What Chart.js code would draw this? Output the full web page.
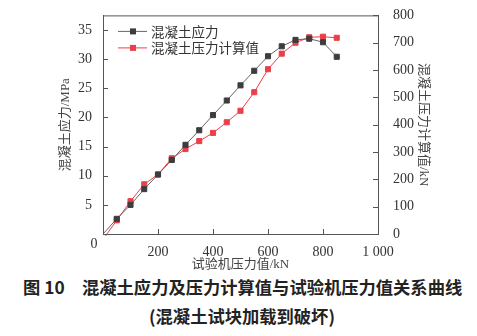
<!DOCTYPE html>
<html>
<head>
<meta charset="utf-8">
<script src="https://cdn.jsdelivr.net/npm/chart.js@4.4.1/dist/chart.umd.min.js"></script>
<style>
  body { margin: 0; background: #fff; }
  #wrap { position: relative; width: 477px; height: 336px; }
  #c { position: absolute; left: 0; top: 0; }
  .cap { position: absolute; font-family: "Noto Sans CJK SC", sans-serif; font-weight: bold; color: #222; font-size: 17.3px; white-space: nowrap; line-height: 24px; }
</style>
</head>
<body>
<div id="wrap">
  <canvas id="c" width="477" height="273"></canvas>
  <div class="cap" style="top:275px; left:23px;">图 10</div>
  <div class="cap" style="top:275px; left:82px;">混凝土应力及压力计算值与试验机压力值关系曲线</div>
  <div class="cap" style="top:304px; left:0; width:484px; text-align:center;">(混凝土试块加载到破坏)</div>
</div>
<script>
// Data ----- START
const loadKN = [0, 50, 100, 150, 200, 250, 300, 350, 400, 450, 500, 550, 600, 650, 700, 750, 800, 850]; //test machine load
const stressMPa = [0, 2.6, 5.0, 7.7, 10.2, 12.7, 15.3, 17.8, 20.4, 22.9, 25.5, 28.0, 30.5, 32.2, 33.3, 33.5, 32.9, 30.4]; //concrete stress
const calcKN = [-20, 50, 120, 182, 218, 277, 311, 340, 370, 409, 451, 519, 603, 660, 700, 720, 722, 718]; //calculated pressure
const xTicks = [0, 200, 400, 600, 800, 1000];
const stressLabel = '混凝土应力';
const calcLabel = '混凝土压力计算值';
// Data ----- END

const serif = '"Liberation Serif", "Noto Sans CJK SC", serif';
const tickFont = { family: serif, size: 14 };
const titleFont = { family: '"Liberation Serif", "Noto Sans CJK SC", serif', size: 13 };
const axisColor = '#555';
const grayLine = '#666';
const grayMark = '#3d3d3d';
const redLine = '#ef3f4a';
const redMark = '#e9404b';

//first point is only where the line starts, no marker
const radii = loadKN.map((v, i) => i === 0 ? 0 : 3.6);

//Draws the inward tick marks, top frame line, the origin 0 and the legend box
const extras = {
    id: 'extras',
    afterDraw(chart) {
        const ctx = chart.ctx;
        const a = chart.chartArea;
        ctx.save();
        ctx.strokeStyle = axisColor;
        ctx.lineWidth = 1;
        ctx.beginPath();
        ctx.moveTo(a.left, a.top + 0.5);
        ctx.lineTo(a.right, a.top + 0.5);
        // ticks pointing into the plot
        chart.scales.x.ticks.forEach(t => {
            const px = Math.round(chart.scales.x.getPixelForValue(t.value)) + 0.5;
            ctx.moveTo(px, a.bottom);
            ctx.lineTo(px, a.bottom - 5);
        });
        chart.scales.y.ticks.forEach(t => {
            const py = Math.round(chart.scales.y.getPixelForValue(t.value)) + 0.5;
            ctx.moveTo(a.left, py);
            ctx.lineTo(a.left + 5, py);
        });
        chart.scales.y2.ticks.forEach(t => {
            const py = Math.round(chart.scales.y2.getPixelForValue(t.value)) + 0.5;
            ctx.moveTo(a.right, py);
            ctx.lineTo(a.right - 5, py);
        });
        ctx.stroke();

        // shared origin label
        ctx.fillStyle = '#333';
        ctx.font = '14px ' + serif;
        ctx.textAlign = 'center';
        ctx.textBaseline = 'middle';
        ctx.fillText('0', chart.scales.x.getPixelForValue(0) - 9, a.bottom + 10);

        // legend
        const rows = [[stressLabel, grayLine, grayMark], [calcLabel, redLine, redMark]];
        ctx.font = '13.5px "Noto Sans CJK SC", sans-serif';
        ctx.textAlign = 'left';
        rows.forEach((r, i) => {
            const y = a.top + 16 + i * 16.5;
            ctx.strokeStyle = r[1];
            ctx.beginPath();
            ctx.moveTo(a.left + 15, y);
            ctx.lineTo(a.left + 44, y);
            ctx.stroke();
            ctx.fillStyle = r[2];
            ctx.fillRect(a.left + 27, y - 3, 6, 6);
            ctx.fillStyle = '#333';
            ctx.fillText(r[0], a.left + 48, y);
        });
        ctx.restore();
    }
};

const chart = new Chart(document.getElementById('c'), {
    type: 'line',
    data: {
        labels: loadKN,
        datasets: [{
            label: stressLabel,
            data: loadKN.map((x, i) => ({ x: x, y: stressMPa[i] })),
            yAxisID: 'y',
            borderColor: grayLine,
            borderWidth: 1,
            pointStyle: 'rect',
            pointRadius: radii,
            pointBackgroundColor: grayMark,
            pointBorderColor: grayMark,
            pointBorderWidth: 1,
            clip: { left: 0, top: 0, right: 0, bottom: 2 }
        }, {
            label: calcLabel,
            data: loadKN.map((x, i) => ({ x: x, y: calcKN[i] })),
            yAxisID: 'y2',
            borderColor: redLine,
            borderWidth: 1,
            pointStyle: 'rect',
            pointRadius: radii,
            pointBackgroundColor: redMark,
            pointBorderColor: redMark,
            pointBorderWidth: 1,
            clip: { left: 0, top: 0, right: 0, bottom: 2 }
        }]
    },
    options: {
        responsive: false,
        animation: false,
        layout: { padding: { top: 11, left: 0, right: 0, bottom: 0 } },
        plugins: { legend: { display: false }, tooltip: { enabled: false } },
        scales: {
            x: {
                type: 'linear',
                min: 0,
                max: 1000,
                afterBuildTicks: s => { s.ticks = xTicks.map(v => ({ value: v })); },
                afterFit: s => { s.height = 273 - 234; },
                grid: { display: false },
                border: { color: axisColor },
                ticks: {
                    font: tickFont, color: '#333', padding: 2, maxRotation: 0,
                    callback: v => v === 0 ? '' : (v === 1000 ? '1 000' : String(v))
                },
                title: { display: true, text: '试验机压力值/kN', font: titleFont, color: '#444', padding: { top: 0, bottom: 1 } }
            },
            y: {
                position: 'left',
                min: 0,
                max: 37.5,
                ticks: {
                    stepSize: 5, includeBounds: false, font: tickFont, color: '#333', padding: 3,
                    callback: v => v === 0 ? '' : v
                },
                afterFit: s => { s.width = 103; },
                grid: { display: false },
                border: { color: axisColor },
                title: { display: true, text: '混凝土应力/MPa', font: titleFont, color: '#444', padding: { top: 58, bottom: 0 } }
            },
            y2: {
                position: 'right',
                min: 0,
                max: 800,
                ticks: { stepSize: 100, font: tickFont, color: '#333', padding: 7 },
                afterFit: s => { s.width = 99; },
                grid: { display: false },
                border: { color: axisColor },
                title: { display: true, text: '混凝土压力计算值/kN', font: titleFont, color: '#444', padding: { top: 46, bottom: 0 } }
            }
        }
    },
    plugins: [extras]
});
</script>
</body>
</html>
